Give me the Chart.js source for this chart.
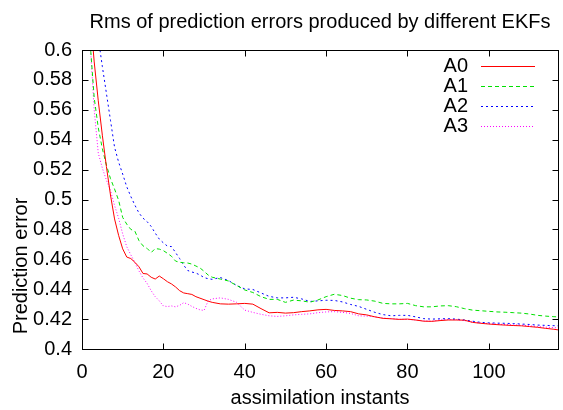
<!DOCTYPE html>
<html>
<head>
<meta charset="utf-8">
<script src="https://cdn.jsdelivr.net/npm/chart.js@4/dist/chart.umd.min.js"></script>
<style>
  html, body { margin: 0; padding: 0; background: #fff; }
  canvas { display: block; }
</style>
</head>
<body>
<canvas id="c" width="563" height="410"></canvas>
<script>
// assimilation instants (x)
const steps = [
  1, 2, 3, 4, 5, 6, 7, 8, 9, 10, 11, 12, 13, 14, 15, 16, 17, 18, 19, 20,
  21, 22, 23, 24, 25, 26, 27, 28, 29, 30, 31, 32,
  34, 36, 38, 40, 42, 44, 46, 48, 50, 52, 54, 56, 58, 60, 62, 64, 66, 68, 70,
  72, 74, 76, 78, 80, 82, 84, 86, 88, 90, 92, 94, 96, 98, 100, 102, 104, 106,
  108, 110, 112, 114, 116, 117
];

const a0 = [
  0.68, 0.625, 0.592, 0.566, 0.543, 0.522, 0.503, 0.487, 0.476, 0.467,
  0.4615, 0.4605, 0.458, 0.455, 0.4505, 0.4502, 0.448, 0.4468, 0.4488, 0.447,
  0.445, 0.4435, 0.4415, 0.439, 0.4375, 0.437, 0.4365, 0.435, 0.434, 0.433, 0.432, 0.4312,
  0.4302, 0.430, 0.4302, 0.4305, 0.430, 0.427, 0.4242, 0.4245, 0.424, 0.4243,
  0.425, 0.4255, 0.4262, 0.4265, 0.4258, 0.4255, 0.425, 0.4235, 0.4228,
  0.4215, 0.4205, 0.4202, 0.4198, 0.420, 0.4194, 0.4186, 0.4185, 0.419, 0.4194,
  0.4194, 0.4193, 0.4178, 0.4172, 0.4167, 0.4163, 0.416, 0.4157,
  0.4155, 0.415, 0.4145, 0.4138, 0.4132, 0.4128
];

const a1 = [
  0.66, 0.605, 0.568, 0.548, 0.534, 0.523, 0.514, 0.507, 0.4995, 0.488,
  0.4835, 0.480, 0.4788, 0.4725, 0.469, 0.4673, 0.4645, 0.4672, 0.4668, 0.4658,
  0.464, 0.462, 0.4588, 0.458, 0.4577, 0.4575, 0.4568, 0.4555, 0.4542, 0.452, 0.4495, 0.448,
  0.4468, 0.4455, 0.4425, 0.4395, 0.4378, 0.435, 0.4332, 0.4332, 0.4312, 0.4327,
  0.4322, 0.4313, 0.4328, 0.435, 0.4366, 0.4358, 0.434, 0.433, 0.4328,
  0.432, 0.4305, 0.4302, 0.4302, 0.4305, 0.429, 0.4282, 0.4282, 0.4288, 0.429,
  0.4283, 0.427, 0.426, 0.4256, 0.4252, 0.4248, 0.4246, 0.4243,
  0.424, 0.4234, 0.4225, 0.422, 0.4216, 0.4215
];

const a2 = [
  0.75, 0.69, 0.64, 0.608, 0.589, 0.571, 0.553, 0.535, 0.525, 0.517,
  0.5085, 0.502, 0.4962, 0.491, 0.4875, 0.4852, 0.482, 0.4775, 0.4735, 0.471,
  0.4688, 0.4685, 0.4645, 0.4605, 0.456, 0.4525, 0.4515, 0.4508, 0.4495, 0.4478, 0.447, 0.4466,
  0.4478, 0.4458, 0.4425, 0.4402, 0.4398, 0.4375, 0.4352, 0.4342, 0.4342, 0.4346,
  0.4335, 0.4318, 0.4322, 0.4326, 0.4325, 0.4315, 0.4298, 0.4285, 0.4265,
  0.4245, 0.423, 0.4222, 0.4225, 0.4225, 0.4215, 0.4203, 0.420, 0.4202, 0.4203,
  0.420, 0.4194, 0.4186, 0.4178, 0.4175, 0.4173, 0.4172, 0.417,
  0.4167, 0.4164, 0.416, 0.4158, 0.4156, 0.4155
];

const a3 = [
  0.70, 0.605, 0.56, 0.531, 0.521, 0.513, 0.506, 0.496, 0.4875, 0.477,
  0.4684, 0.463, 0.4578, 0.4522, 0.4475, 0.4439, 0.439, 0.435, 0.4322, 0.4288,
  0.4284, 0.4288, 0.4282, 0.4292, 0.431, 0.430, 0.4285, 0.4272, 0.4262, 0.4258, 0.4322, 0.4335,
  0.4342, 0.4332, 0.4312, 0.426, 0.4245, 0.4232, 0.4222, 0.4218, 0.4222, 0.4228,
  0.4232, 0.4235, 0.4243, 0.4248, 0.425, 0.4245, 0.4238, 0.4222, 0.422,
  0.4215, 0.4207, 0.4203, 0.4199, 0.4198, 0.4194, 0.4188, 0.4186, 0.4195, 0.4198,
  0.4196, 0.419, 0.418, 0.4174, 0.417, 0.4166, 0.4164, 0.4161,
  0.416, 0.4155, 0.415, 0.4146, 0.4143, 0.4142
];

const xTicks = [0, 20, 40, 60, 80, 100];
const yTicks = [0.4, 0.42, 0.44, 0.46, 0.48, 0.5, 0.52, 0.54, 0.56, 0.58, 0.6];

const FONT = "'Liberation Sans', Arial, sans-serif";
const FS = 20;

const pts = (arr) => steps.map((x, i) => ({ x: x, y: arr[i] }));
const series = [
  { label: "A0", data: pts(a0), borderColor: "#ff0000", borderDash: [] },
  { label: "A1", data: pts(a1), borderColor: "#00e000", borderDash: [4, 3] },
  { label: "A2", data: pts(a2), borderColor: "#0000ff", borderDash: [2, 3] },
  { label: "A3", data: pts(a3), borderColor: "#ff00ff", borderDash: [1, 2] },
];

// border, inward ticks on all sides, legend and axis titles (gnuplot look)
const frame = {
  id: "frame",
  afterDraw(chart) {
    const { ctx, chartArea: a, scales } = chart;
    ctx.save();
    ctx.strokeStyle = "#000";
    ctx.lineWidth = 1;
    ctx.setLineDash([]);
    const L = Math.round(a.left) + 0.5, R = Math.round(a.right) + 0.5;
    const T = Math.round(a.top) + 0.5, B = Math.round(a.bottom) + 0.5;
    ctx.strokeRect(L, T, R - L, B - T);
    ctx.beginPath();
    xTicks.forEach((v) => {
      const px = Math.round(scales.x.getPixelForValue(v)) + 0.5;
      ctx.moveTo(px, B); ctx.lineTo(px, B - 6);
      ctx.moveTo(px, T); ctx.lineTo(px, T + 6);
    });
    yTicks.forEach((v) => {
      const py = Math.round(scales.y.getPixelForValue(v)) + 0.5;
      ctx.moveTo(L, py); ctx.lineTo(L + 6, py);
      ctx.moveTo(R, py); ctx.lineTo(R - 6, py);
    });
    ctx.stroke();

    ctx.fillStyle = "#000";
    ctx.font = FS + "px " + FONT;
    ctx.textBaseline = "middle";
    // legend
    chart.data.datasets.forEach((ds, i) => {
      const y = 66 + i * 20;
      ctx.textAlign = "right";
      ctx.fillText(ds.label, 468, y);
      ctx.strokeStyle = ds.borderColor;
      ctx.setLineDash(ds.borderDash);
      ctx.beginPath();
      ctx.moveTo(481, y + 0.5); ctx.lineTo(535, y + 0.5);
      ctx.stroke();
    });
    ctx.setLineDash([]);
    // axis titles
    ctx.textAlign = "center";
    ctx.fillText("assimilation instants", (a.left + a.right) / 2, 398);
    ctx.translate(21, 266);
    ctx.rotate(-Math.PI / 2);
    ctx.fillText("Prediction error", 0, 0);
    ctx.restore();
  },
};

new Chart(document.getElementById("c"), {
  type: "line",
  data: {
    datasets: series.map((s) => ({
      label: s.label,
      data: s.data,
      borderColor: s.borderColor,
      borderDash: s.borderDash,
      borderWidth: 1,
      pointRadius: 0,
      tension: 0,
      fill: false,
    })),
  },
  options: {
    responsive: false,
    animation: false,
    devicePixelRatio: 1,
    layout: { padding: { left: 0, right: 5, top: 0, bottom: 0 } },
    plugins: {
      legend: { display: false },
      tooltip: { enabled: false },
      title: {
        display: true,
        fullSize: false,
        text: "Rms of prediction errors produced by different EKFs",
        color: "#000",
        font: { family: FONT, size: FS, weight: "normal" },
        padding: { top: 10, bottom: 16 },
      },
    },
    scales: {
      x: {
        type: "linear",
        min: 0,
        max: 117,
        grid: { drawOnChartArea: false, drawTicks: false },
        border: { display: false },
        afterBuildTicks: (s) => { s.ticks = xTicks.map((v) => ({ value: v })); },
        afterFit: (s) => { s.height = 61; },
        ticks: {
          color: "#000",
          padding: 11,
          maxRotation: 0,
          font: { family: FONT, size: FS },
        },
      },
      y: {
        type: "linear",
        min: 0.4,
        max: 0.6,
        grid: { drawOnChartArea: false, drawTicks: false },
        border: { display: false },
        afterBuildTicks: (s) => { s.ticks = yTicks.map((v) => ({ value: v })); },
        afterFit: (s) => { s.width = 82; },
        ticks: {
          color: "#000",
          padding: 10,
          font: { family: FONT, size: FS },
          callback: (v) => String(parseFloat(Number(v).toFixed(2))),
        },
      },
    },
  },
  plugins: [frame],
});
</script>
</body>
</html>
